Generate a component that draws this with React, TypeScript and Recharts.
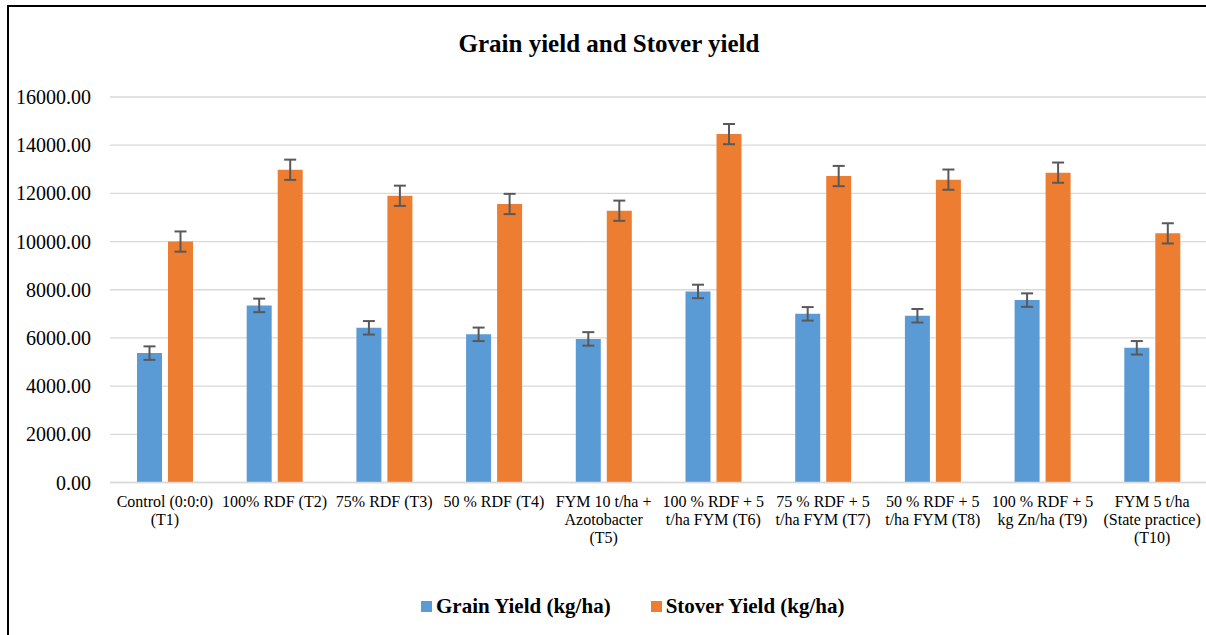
import { BarChart, Bar, XAxis, YAxis, CartesianGrid, Legend, ErrorBar } from 'recharts';

const categories = [
  'Control (0:0:0)\n(T1)',
  '100% RDF (T2)',
  '75% RDF (T3)',
  '50 % RDF (T4)',
  'FYM 10 t/ha +\nAzotobacter\n(T5)',
  '100 % RDF + 5\nt/ha FYM (T6)',
  '75 % RDF + 5\nt/ha FYM (T7)',
  '50 % RDF + 5\nt/ha FYM (T8)',
  '100 % RDF + 5\nkg Zn/ha (T9)',
  'FYM 5 t/ha\n(State practice)\n(T10)',
];
const grainYield = [5370, 7350, 6420, 6150, 5960, 7930, 7000, 6920, 7570, 5590];
const grainErr = [280, 280, 280, 280, 280, 280, 280, 280, 280, 280];
const stoverYield = [10000, 12980, 11900, 11560, 11280, 14460, 12720, 12570, 12860, 10340];
const stoverErr = [420, 420, 420, 420, 420, 420, 420, 420, 420, 420];
const yTicks = [0, 2000, 4000, 6000, 8000, 10000, 12000, 14000, 16000];

const FONT = "'Liberation Serif', 'Times New Roman', serif";
const BLUE = '#5B9BD5';
const ORANGE = '#ED7D31';

const data = categories.map((name, i) => ({
  name,
  grain: grainYield[i],
  grainErr: grainErr[i],
  stover: stoverYield[i],
  stoverErr: stoverErr[i],
}));

// multi-line category labels, split on \n
const CategoryTick = (props: any) => {
  const { x, y, payload } = props;
  const lines = String(payload.value).split('\n');
  return (
    <text x={x} y={y} textAnchor="middle" fontSize={16} fill="#000" style={{ fontFamily: FONT }}>
      {lines.map((line, i) => (
        <tspan key={i} x={x} dy={i === 0 ? 16.5 : 18}>{line}</tspan>
      ))}
    </text>
  );
};

const legendItems = [
  { label: 'Grain Yield (kg/ha)', color: BLUE },
  { label: 'Stover Yield (kg/ha)', color: ORANGE },
];

const renderLegend = () => (
  <div style={{ display: 'flex', alignItems: 'center', height: 30, fontFamily: FONT }}>
    {legendItems.map((item, i) => (
      <div key={item.label} style={{ display: 'flex', alignItems: 'center', marginRight: i === 0 ? 40 : 0 }}>
        <span style={{ width: 11, height: 11, background: item.color, marginRight: 4, display: 'inline-block' }} />
        <span style={{ fontFamily: FONT, fontSize: 21, fontWeight: 'bold', color: '#000', lineHeight: '30px' }}>
          {item.label}
        </span>
      </div>
    ))}
  </div>
);

export default function App() {
  return (
    <div style={{ position: 'fixed', left: 0, top: 0, width: 1206, height: 635, overflow: 'hidden', background: '#fff' }}>
      <div style={{ position: 'absolute', left: 7, top: 5, width: 1210, height: 640, border: '2px solid #000' }}>
        <BarChart
          width={1210}
          height={628}
          data={data}
          margin={{ top: 90, right: 12, left: 0, bottom: 92.5 }}
          barSize={25}
          barGap={6}
          style={{ fontFamily: FONT }}
        >
          <CartesianGrid vertical={false} stroke="#D9D9D9" strokeWidth={1.3} />
          <XAxis
            dataKey="name"
            interval={0}
            tick={<CategoryTick />}
            tickLine={false}
            tickSize={6}
            tickMargin={2}
            axisLine={{ stroke: '#D9D9D9', strokeWidth: 1.3 }}
            height={60}
          />
          <YAxis
            width={101}
            domain={[0, 16000]}
            ticks={yTicks}
            tickFormatter={(v: number) => v.toFixed(2)}
            tick={{ fill: '#000', fontSize: 20, fontFamily: FONT, style: { fontFamily: FONT } }}
            axisLine={false}
            tickLine={false}
            tickSize={6}
            tickMargin={13}
          />
          <Legend
            layout="horizontal"
            verticalAlign="middle"
            align="center"
            wrapperStyle={{ left: 412, top: 584, width: 600 }}
            content={renderLegend}
          />
          <Bar dataKey="grain" name="Grain Yield (kg/ha)" fill={BLUE} isAnimationActive={false}>
            <ErrorBar dataKey="grainErr" width={6} strokeWidth={2} stroke="#595959" direction="y" isAnimationActive={false} />
          </Bar>
          <Bar dataKey="stover" name="Stover Yield (kg/ha)" fill={ORANGE} isAnimationActive={false}>
            <ErrorBar dataKey="stoverErr" width={6} strokeWidth={2} stroke="#595959" direction="y" isAnimationActive={false} />
          </Bar>
        </BarChart>
        <div
          style={{
            position: 'absolute',
            left: 0,
            top: 22,
            width: 1200,
            textAlign: 'center',
            fontFamily: FONT,
            fontWeight: 'bold',
            fontSize: 25,
            lineHeight: '30px',
            color: '#000',
          }}
        >
          Grain yield and Stover yield
        </div>
      </div>
    </div>
  );
}
